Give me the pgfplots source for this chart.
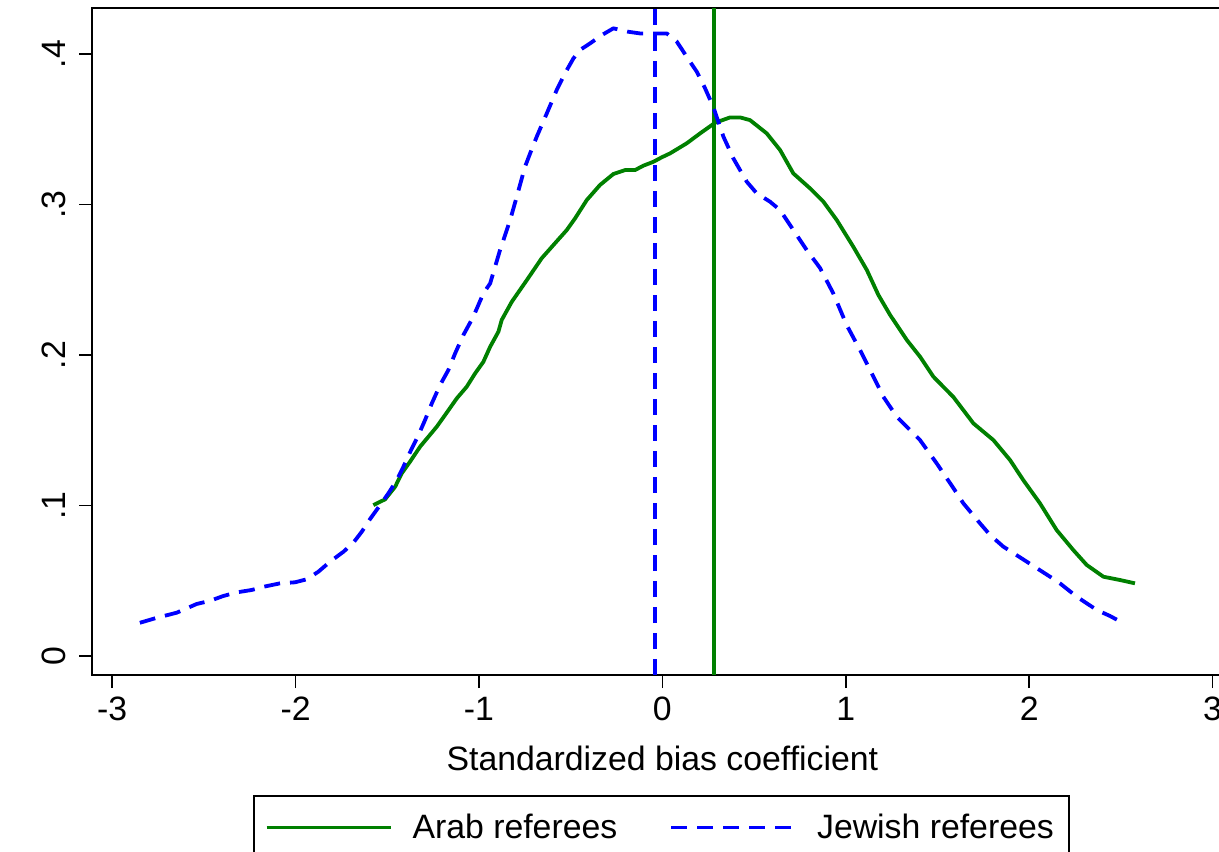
\documentclass[border=0pt]{standalone}
\usepackage{fontspec}
\setmainfont{Liberation Sans}
\usepackage{pgfplots}
\pgfplotsset{compat=1.18}
\definecolor{sgreen}{RGB}{0,128,0}
\definecolor{sblue}{RGB}{0,0,255}
\newcommand{\fs}{\fontsize{16.9}{20.3}\selectfont}
\begin{document}
\begin{tikzpicture}
\useasboundingbox (0,0) rectangle (609.5pt,425.5pt);
\begin{axis}[
  at={(46pt,88pt)}, anchor=south west,
  scale only axis, width=570.35pt, height=333.5pt,
  xmin=-3.11, xmax=3.11, ymin=-0.0126, ymax=0.4306,
  axis line style={line width=0.8pt, black},
  xtick={-3,-2,-1,0,1,2,3}, xticklabels={-3,-2,-1,0,1,2,3},
  ytick={0,0.1,0.2,0.3,0.4}, yticklabels={0,.1,.2,.3,.4},
  /pgf/number format/assume math mode=true,
  xtick pos=bottom, ytick pos=left,
  tick align=outside, major tick length=6.5pt,
  every tick/.style={line width=0.8pt, black},
  ticklabel style={font=\fs},
  xticklabel style={anchor=north, yshift=-1pt},
  yticklabel style={xshift=-3pt, rotate=90, anchor=south},
  xlabel={Standardized bias coefficient},
  xlabel style={font=\fs, at={(axis description cs:0.5,0)}, anchor=center, yshift=-41.5pt},
  legend columns=2,
  legend style={at={(0.1411,-0.1799)}, anchor=north west, draw=black, line width=0.8pt,
    font=\fs, inner xsep=5.5pt, inner ysep=7pt,
    /tikz/every odd column/.append style={column sep=8pt},
    /tikz/every even column/.append style={column sep=24pt}},
  legend cell align=left,
  legend image code/.code={\draw[#1] (0pt,0pt) -- (62pt,0pt);},
]
\addplot[sgreen, line width=1.9pt, forget plot] coordinates {(0.28,-0.0126) (0.28,0.4306)};
\addplot[sblue, line width=1.9pt, dash pattern=on 8pt off 5pt, forget plot] coordinates {(-0.04,-0.0126) (-0.04,0.4306)};
\addplot[sgreen, line width=1.9pt, line join=round] coordinates {
(-1.576,0.1003) (-1.512,0.1041) (-1.457,0.1125) (-1.421,0.1214) (-1.376,0.1291)
(-1.321,0.1391) (-1.230,0.1524) (-1.185,0.1601) (-1.121,0.1712) (-1.067,0.1789)
(-1.021,0.1878) (-0.976,0.1955) (-0.939,0.2055) (-0.894,0.2155) (-0.876,0.2233)
(-0.821,0.2354) (-0.739,0.2498) (-0.658,0.2643) (-0.594,0.2731) (-0.521,0.2831)
(-0.476,0.2908) (-0.412,0.3030) (-0.340,0.3130) (-0.267,0.3203) (-0.203,0.3229)
(-0.149,0.3229) (-0.104,0.3258) (-0.049,0.3284) (-0.003,0.3314) (0.042,0.3340)
(0.133,0.3407) (0.206,0.3473) (0.287,0.3543) (0.369,0.3579) (0.424,0.3579)
(0.478,0.3561) (0.569,0.3473) (0.642,0.3362) (0.714,0.3207) (0.805,0.3108)
(0.878,0.3019) (0.951,0.2897) (1.041,0.2720) (1.115,0.2565) (1.178,0.2399)
(1.242,0.2266) (1.333,0.2100) (1.405,0.1989) (1.478,0.1856) (1.587,0.1721)
(1.696,0.1546) (1.805,0.1435) (1.896,0.1302) (1.968,0.1169) (2.059,0.1015)
(2.150,0.0837) (2.241,0.0704) (2.314,0.0605) (2.405,0.0527) (2.496,0.0505)
(2.577,0.0483)};
\addlegendentry{Arab referees}
\addplot[sblue, line width=1.9pt, dash pattern=on 8pt off 5pt, line join=round] coordinates {
(-2.849,0.0221) (-2.757,0.0254) (-2.648,0.0288) (-2.539,0.0346) (-2.466,0.0367)
(-2.394,0.0399) (-2.321,0.0423) (-2.239,0.0439) (-2.176,0.0460) (-2.085,0.0483)
(-2.003,0.0490) (-1.939,0.0510) (-1.876,0.0560) (-1.812,0.0627) (-1.739,0.0693)
(-1.685,0.0753) (-1.639,0.0826) (-1.594,0.0910) (-1.539,0.1003) (-1.494,0.1081)
(-1.448,0.1169) (-1.412,0.1258) (-1.366,0.1380) (-1.330,0.1468) (-1.294,0.1568)
(-1.257,0.1679) (-1.212,0.1801) (-1.167,0.1900) (-1.130,0.2011) (-1.085,0.2133)
(-1.031,0.2254) (-0.976,0.2410) (-0.939,0.2476) (-0.885,0.2698) (-0.830,0.2897)
(-0.794,0.3052) (-0.749,0.3251) (-0.721,0.3340) (-0.685,0.3451) (-0.630,0.3606)
(-0.576,0.3761) (-0.531,0.3872) (-0.485,0.3971) (-0.449,0.4027) (-0.394,0.4071)
(-0.330,0.4126) (-0.267,0.4171) (-0.185,0.4148) (-0.122,0.4137) (-0.049,0.4137)
(0.024,0.4137) (0.079,0.4082) (0.133,0.3982) (0.188,0.3882) (0.233,0.3772)
(0.278,0.3648) (0.333,0.3451) (0.387,0.3307) (0.460,0.3152) (0.515,0.3074)
(0.587,0.3019) (0.642,0.2963) (0.714,0.2831) (0.787,0.2698) (0.860,0.2578)
(0.932,0.2410) (1.005,0.2199) (1.078,0.2033) (1.133,0.1900) (1.205,0.1723)
(1.278,0.1590) (1.405,0.1435) (1.496,0.1280) (1.587,0.1116) (1.641,0.1015)
(1.732,0.0882) (1.787,0.0804) (1.859,0.0727) (1.987,0.0627) (2.114,0.0527)
(2.168,0.0483) (2.260,0.0394) (2.369,0.0306) (2.441,0.0266) (2.499,0.0228)};
\addlegendentry{Jewish referees\hspace{5pt}}
\end{axis}
\end{tikzpicture}
\end{document}
